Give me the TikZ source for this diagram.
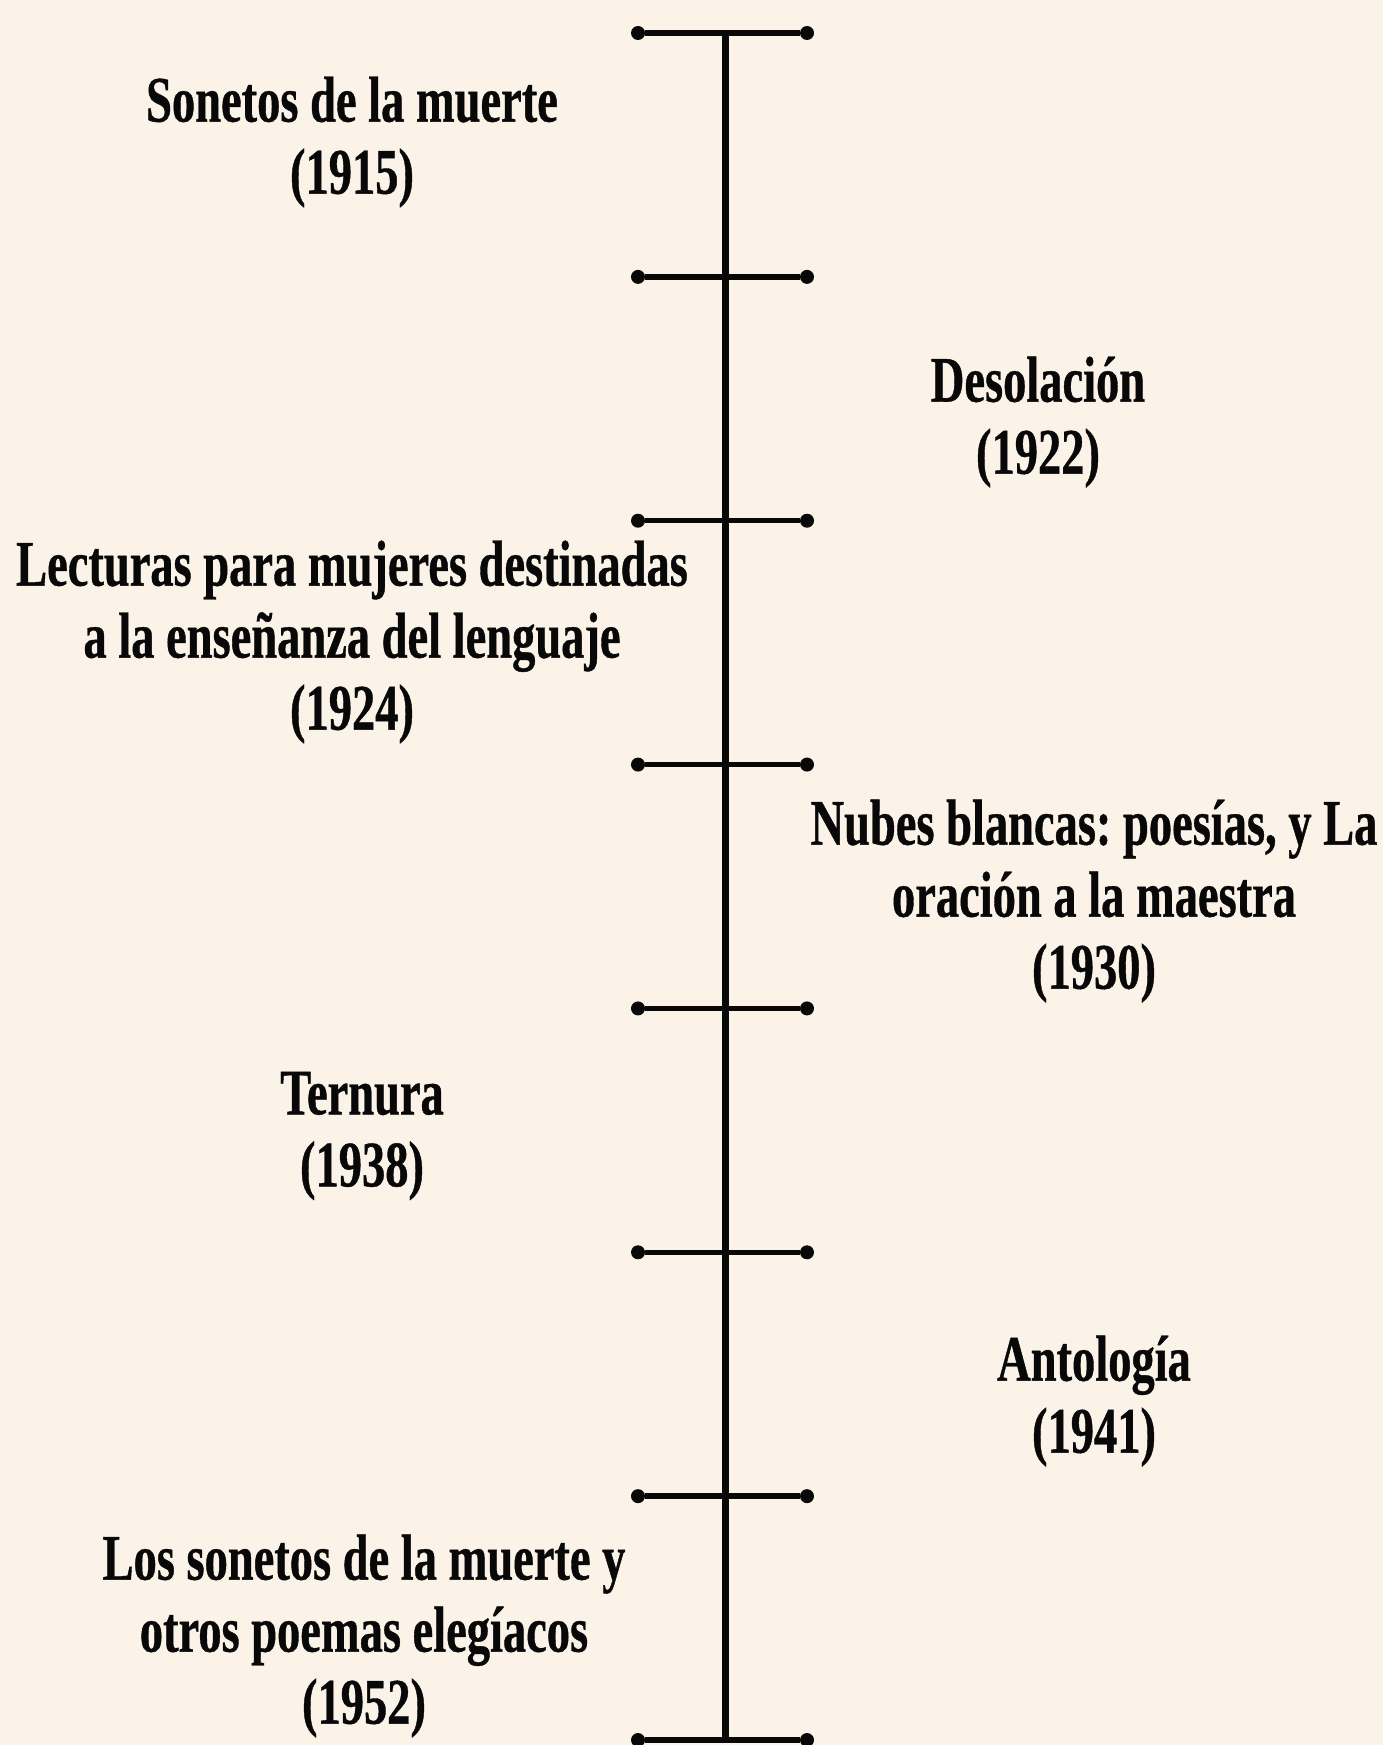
\documentclass[tikz,border=0pt]{standalone}
\usepackage{fontspec}
\newfontfamily\tlfont[FakeStretch=0.715,FakeBold=0.6]{Liberation Serif}
\definecolor{bg}{RGB}{251,243,232}
\definecolor{ink}{RGB}{8,8,8}
\frenchspacing
\begin{document}
\begin{tikzpicture}[x=1pt,y=-1pt,
  dot/.style={circle,fill=ink,inner sep=0pt,minimum size=14pt},
  tickline/.style={line width=5.5pt,draw=ink},
  axis/.style={line width=7pt,draw=ink},
  lbl/.style={align=center,font=\tlfont\bfseries\frenchspacing\fontsize{65}{72}\selectfont,text=ink,inner sep=0pt}]
\fill[bg] (0,0) rectangle (1383,1745);
\useasboundingbox (0,0) rectangle (1383,1745);
\coordinate (top) at (725,33);
\coordinate (bot) at (725,1740);
\draw[axis] (top) -- (bot);
\foreach \i in {0,...,7}{
  \pgfmathsetmacro\yy{33+\i*243.857}
  \node[dot] (l\i) at (638,\yy) {};
  \node[dot] (r\i) at (807,\yy) {};
  \draw[tickline] (l\i) -- (r\i);
}
\node[lbl] (t1) at (352,142) {Sonetos de la muerte\\(1915)};
\node[lbl] (t2) at (1038,422) {Desolación\\(1922)};
\node[lbl] (t3) at (352,642) {Lecturas para mujeres destinadas\\a la enseñanza del lenguaje\\(1924)};
\node[lbl] (t4) at (1094,901) {Nubes blancas: poesías, y La\\oración a la maestra\\(1930)};
\node[lbl] (t5) at (362,1136) {Ternura\\(1938)};
\node[lbl] (t6) at (1094,1401) {Antología\\(1941)};
\node[lbl] (t7) at (364,1636) {Los sonetos de la muerte y\\otros poemas elegíacos\\(1952)};
\end{tikzpicture}
\end{document}
